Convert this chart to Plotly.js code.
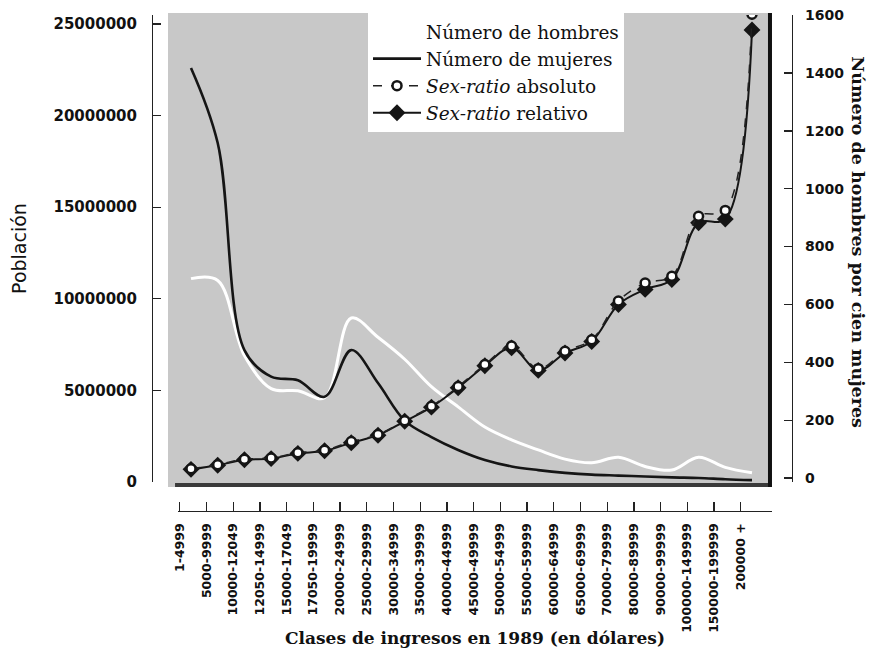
<!DOCTYPE html>
<html>
<head>
<meta charset="utf-8">
<script src="https://cdn.plot.ly/plotly-3.0.1.min.js"></script>
<style>html,body{margin:0;padding:0;background:#fff;}#chart{width:874px;height:652px;}</style>
</head>
<body>
<div id="chart"></div>
<script>
const categories = ['1-4999','5000-9999','10000-12049','12050-14999','15000-17049','17050-19999','20000-24999','25000-29999','30000-34999','35000-39999','40000-44999','45000-49999','50000-54999','55000-59999','60000-64999','65000-69999','70000-79999','80000-89999','90000-99999','100000-149999','150000-199999','200000 +'];
const hombres = [11100000, 11000000, 6900000, 5100000, 4980000, 4600000, 8950000, 7900000, 6700000, 5200000, 4100000, 3000000, 2300000, 1750000, 1250000, 1050000, 1350000, 850000, 650000, 1350000, 800000, 500000];
const mujeres = [22600000, 18500000, 7200000, 5750000, 5550000, 4650000, 7200000, 5400000, 3350000, 2450000, 1750000, 1200000, 850000, 650000, 500000, 400000, 350000, 300000, 250000, 220000, 150000, 100000];
const sexRatioAbsoluto = [32, 46, 65, 69, 87, 96, 126, 150, 198, 248, 316, 392, 456, 378, 438, 478, 612, 674, 697, 905, 925, 1603];
const sexRatioRelativo = [30, 44, 63, 67, 85, 94, 122, 148, 196, 245, 312, 388, 450, 372, 432, 472, 600, 652, 686, 882, 895, 1549];
const leftTicks = [0, 5000000, 10000000, 15000000, 20000000, 25000000];

const xs = categories.map((c, i) => i);
const tickVals = categories.map((c, i) => i - 0.42).concat([21.749]);
const tickText = categories.concat(['']);

const sans = 'DejaVu Sans, sans-serif';
const serif = 'DejaVu Serif, serif';

const traces = [
  {x: xs, y: hombres, yaxis: 'y', mode: 'lines', name: 'Número de hombres', legendrank: 1,
   line: {color: '#ffffff', width: 3, shape: 'spline'}},
  {x: xs, y: mujeres, yaxis: 'y', mode: 'lines', name: 'Número de mujeres', legendrank: 2,
   line: {color: '#151515', width: 2.6, shape: 'spline'}},
  {x: xs, y: sexRatioRelativo, yaxis: 'y2', mode: 'lines+markers', name: '<i>Sex-ratio</i> relativo', legendrank: 4,
   line: {color: '#151515', width: 2, shape: 'spline'},
   marker: {symbol: 'diamond', size: 13, color: '#151515'}},
  {x: xs, y: sexRatioAbsoluto, yaxis: 'y2', mode: 'lines+markers', name: '<i>Sex-ratio</i> absoluto', legendrank: 3,
   line: {color: '#222', width: 1.5, dash: 'dash', shape: 'spline'},
   marker: {symbol: 'circle', size: 9, color: '#ffffff', line: {color: '#151515', width: 2.5}}}
];

const layout = {
  width: 874, height: 652,
  margin: {l: 152, r: 82, t: 15, b: 141},
  paper_bgcolor: '#ffffff',
  plot_bgcolor: 'rgba(0,0,0,0)',
  showlegend: true,
  legend: {x: 0.3375, y: 1.004, xanchor: 'left', yanchor: 'top', bgcolor: '#ffffff',
           borderwidth: 0, font: {family: serif, size: 18.5, color: '#111'}, itemwidth: 48, tracegroupgap: 0},
  xaxis: {domain: [0.0406, 0.96875], range: [-0.487, 21.749], anchor: 'free', position: 0,
          showline: true, linecolor: '#222', linewidth: 1.3, showgrid: false, zeroline: false,
          ticks: 'inside', ticklen: 9, tickwidth: 1.3, tickcolor: '#222',
          tickmode: 'array', tickvals: tickVals, ticktext: tickText, tickangle: -90,
          ticklabelstandoff: 6,
          tickfont: {family: sans, size: 12.5, weight: 'bold', color: '#111'},
          automargin: false,
          title: {text: 'Clases de ingresos en 1989 (en dólares)', standoff: 0,
                  font: {family: serif, size: 17, weight: 'bold', color: '#111'}}},
  yaxis: {domain: [0.05847, 1], range: [0, 25490000], anchor: 'free', position: 0,
          showline: true, linecolor: '#222', linewidth: 1.3, showgrid: false, zeroline: false,
          ticks: 'inside', ticklen: 8, tickwidth: 1.3, tickcolor: '#222',
          tickmode: 'array', tickvals: leftTicks, ticktext: leftTicks.map(String),
          ticklabelstandoff: 12,
          tickfont: {family: sans, size: 15, weight: 'bold', color: '#111'},
          automargin: false,
          title: {text: 'Población', standoff: 20, font: {family: sans, size: 19, color: '#111'}}},
  yaxis2: {overlaying: 'y', side: 'right', anchor: 'free', position: 1, range: [-13.8, 1600.5],
           showline: true, linecolor: '#222', linewidth: 1.3, showgrid: false, zeroline: false,
           ticks: 'inside', ticklen: 8, tickwidth: 1.3, tickcolor: '#222',
           tick0: 0, dtick: 200, ticklabelstandoff: 9,
           tickfont: {family: sans, size: 14, weight: 'bold', color: '#111'},
           automargin: false},
  shapes: [
    {type: 'rect', xref: 'paper', yref: 'paper', x0: 0.025, x1: 0.9656, y0: 0.0484, y1: 1.004,
     fillcolor: '#c8c8c8', line: {width: 0}, layer: 'below'},
    {type: 'line', xref: 'paper', yref: 'paper', x0: 0.036, x1: 0.9656, y0: 0.0524, y1: 0.0524,
     line: {color: '#3a3a3a', width: 4}, layer: 'below'},
    {type: 'line', xref: 'paper', yref: 'paper', x0: 0.9656, x1: 0.9656, y0: 0.0484, y1: 1.004,
     line: {color: '#111', width: 4}, layer: 'below'}
  ],
  annotations: [
    {text: 'Número de hombres por cien mujeres', xref: 'paper', yref: 'paper', x: 1.103, y: 0.542,
     xanchor: 'center', yanchor: 'middle', textangle: 90, showarrow: false,
     font: {family: serif, size: 17.5, weight: 'bold', color: '#111'}}
  ]
};

Plotly.newPlot('chart', traces, layout, {displayModeBar: false, staticPlot: true});
</script>
</body>
</html>
